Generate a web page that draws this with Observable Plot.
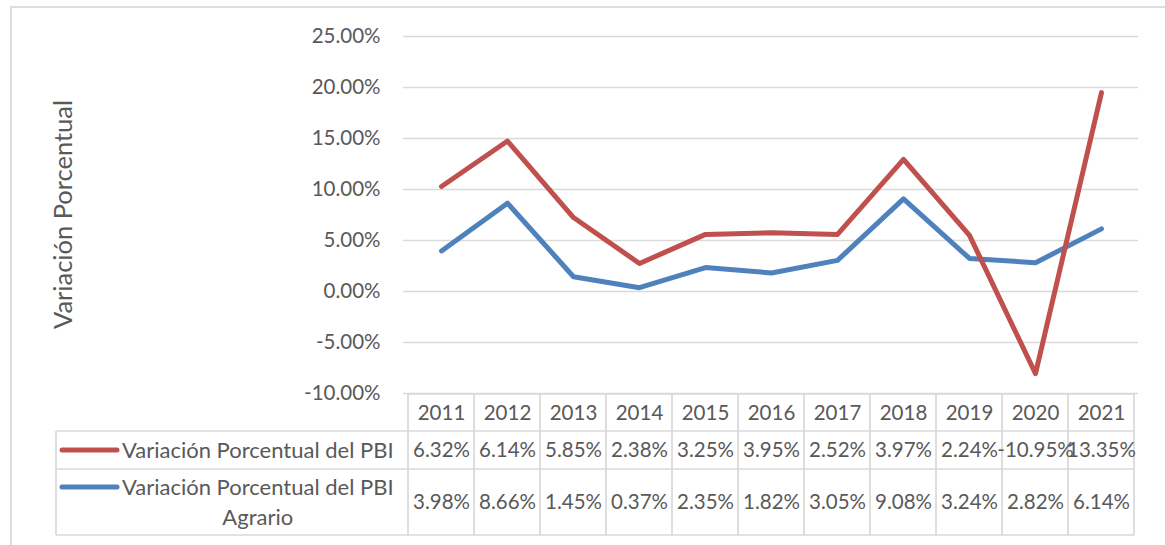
<!DOCTYPE html>
<html>
<head>
<meta charset="utf-8">
<script src="https://cdn.jsdelivr.net/npm/d3@7"></script>
<script src="https://cdn.jsdelivr.net/npm/@observablehq/plot@0.6"></script>
<style>
  html, body { margin: 0; padding: 0; background: #fff; }
  #chart { width: 1165px; height: 545px; overflow: hidden; }
</style>
</head>
<body>
<div id="chart"></div>
<script>
// ---------------- data ----------------
const years = [2011, 2012, 2013, 2014, 2015, 2016, 2017, 2018, 2019, 2020, 2021];
const seriesNames = ["Variación Porcentual del PBI", "Variación Porcentual del PBI Agrario"];
// values of the plotted lines (percent)
const pbiLine  = [10.3, 14.75, 7.25, 2.75, 5.6, 5.75, 5.6, 12.95, 5.5, -8.05, 19.5];
const agroLine = [3.98, 8.66, 1.45, 0.37, 2.35, 1.82, 3.05, 9.08, 3.24, 2.82, 6.14];
// values printed in the data table
const pbiTable  = ["6.32%", "6.14%", "5.85%", "2.38%", "3.25%", "3.95%", "2.52%", "3.97%", "2.24%", "-10.95%", "13.35%"];
const agroTable = ["3.98%", "8.66%", "1.45%", "0.37%", "2.35%", "1.82%", "3.05%", "9.08%", "3.24%", "2.82%", "6.14%"];
const yTicks = [-10, -5, 0, 5, 10, 15, 20, 25];
const yTitle = "Variación Porcentual";

// ---------------- layout / style ----------------
const W = 1165, H = 545;
const frame = {left: 403, right: 1138, top: 36, bottom: 393};
const rowEdges = [394, 431, 469, 535];
const legendLeft = 56, keyX1 = 62, keyX2 = 117, legendTextX = 122;
const fontSize = 20.5;        // numbers
const labelFontSize = 22;     // legend words
const titleFontSize = 25.5;   // axis title
const fontFamily = "Lato, 'Open Sans', sans-serif";
const ink = "#595959", gridColor = "#d9d9d9";
const colors = ["#C0504D", "#4F81BD"];

const lineData = [
  ...years.map((year, i) => ({year, value: agroLine[i], series: seriesNames[1]})),
  ...years.map((year, i) => ({year, value: pbiLine[i], series: seriesNames[0]}))
];
const tableData = years.map((year, i) => ({year, label: String(year), pbi: pbiTable[i], agro: agroTable[i]}));

const rowCenter = k => (rowEdges[k] + rowEdges[k + 1]) / 2;
const textOpts = {fill: ink, lineAnchor: "middle", frameAnchor: "bottom", fontSize};

const plot = Plot.plot({
  width: W,
  height: H,
  marginLeft: frame.left,
  marginRight: W - frame.right,
  marginTop: frame.top,
  marginBottom: H - frame.bottom,
  style: {fontFamily, fontSize: fontSize + "px", color: ink, background: "transparent", overflow: "visible"},
  x: {type: "point", domain: years, padding: 0.5, axis: null},
  y: {domain: [-10, 25], ticks: yTicks, tickFormat: d => d.toFixed(2) + "%", tickSize: 0, tickPadding: 23, label: null},
  color: {domain: seriesNames, range: colors},
  marks: [
    Plot.ruleY(yTicks, {stroke: gridColor, strokeWidth: 1.7}),
    Plot.line(lineData.filter(d => d.series === seriesNames[1]), {x: "year", y: "value", stroke: "series", strokeWidth: 5, strokeLinejoin: "round", strokeLinecap: "round"}),
    Plot.line(lineData.filter(d => d.series === seriesNames[0]), {x: "year", y: "value", stroke: "series", strokeWidth: 5, strokeLinejoin: "round", strokeLinecap: "round"}),
    Plot.text(tableData, {x: "year", text: "label", dy: rowCenter(0) - frame.bottom, ...textOpts}),
    Plot.text(tableData, {x: "year", text: "pbi", dy: rowCenter(1) - frame.bottom, ...textOpts}),
    Plot.text(tableData, {x: "year", text: "agro", dy: rowCenter(2) - frame.bottom, ...textOpts})
  ]
});

document.getElementById("chart").append(plot);

// ---------------- table grid, legend keys, title ----------------
const svg = d3.select(plot);
const xs = plot.scale("x");
const step = xs.step ?? (xs.range[1] - xs.range[0]) / (years.length - 1 + 2 * (xs.padding ?? 0.5));
const colEdges = d3.range(years.length + 1).map(i => xs.apply(years[0]) - step / 2 + i * step);
const x0 = colEdges[0], x1 = colEdges[colEdges.length - 1];

const under = svg.insert("g", ":first-child")
  .attr("stroke", gridColor).attr("stroke-width", 1.7).attr("fill", "none");

// outer chart-area border
under.append("rect").attr("x", 11).attr("y", 7).attr("width", W).attr("height", H);

// horizontal table lines
under.append("line").attr("x1", x0).attr("x2", x1).attr("y1", rowEdges[0]).attr("y2", rowEdges[0]);
rowEdges.slice(1).forEach(y => under.append("line").attr("x1", legendLeft).attr("x2", x1).attr("y1", y).attr("y2", y));
// vertical table lines
colEdges.forEach(x => under.append("line").attr("x1", x).attr("x2", x).attr("y1", rowEdges[0]).attr("y2", rowEdges[3]));
under.append("line").attr("x1", legendLeft).attr("x2", legendLeft).attr("y1", rowEdges[1]).attr("y2", rowEdges[3]);

// legend cells
const over = svg.append("g").attr("font-family", fontFamily).attr("font-size", labelFontSize).attr("fill", ink);
const maxW = x0 - legendTextX;
const lineH = 30;
seriesNames.forEach((name, k) => {
  // wrap words
  const words = name.split(" ");
  const probe = over.append("text");
  const lines = [];
  let cur = "";
  for (const w of words) {
    const t = cur ? cur + " " + w : w;
    probe.text(t);
    if (probe.node().getComputedTextLength() > maxW && cur) { lines.push(cur); cur = w; }
    else cur = t;
  }
  lines.push(cur);
  const widths = lines.map(l => { probe.text(l); return probe.node().getComputedTextLength(); });
  probe.remove();
  const blockW = d3.max(widths);
  const cx = legendTextX + blockW / 2;
  const cy = rowCenter(k + 1);
  const firstY = cy - (lines.length - 1) * lineH / 2;
  lines.forEach((l, j) => {
    over.append("text").attr("x", cx).attr("y", firstY + j * lineH)
      .attr("text-anchor", "middle").attr("dy", "0.35em").text(l);
  });
  over.append("line").attr("x1", keyX1).attr("x2", keyX2).attr("y1", firstY).attr("y2", firstY)
    .attr("stroke", colors[k]).attr("stroke-width", 5).attr("stroke-linecap", "round");
});

// y-axis title
over.append("text")
  .attr("transform", `translate(63,${(frame.top + frame.bottom) / 2}) rotate(-90)`)
  .attr("text-anchor", "middle").attr("dy", "0.35em")
  .attr("font-size", titleFontSize)
  .text(yTitle);
</script>
</body>
</html>
